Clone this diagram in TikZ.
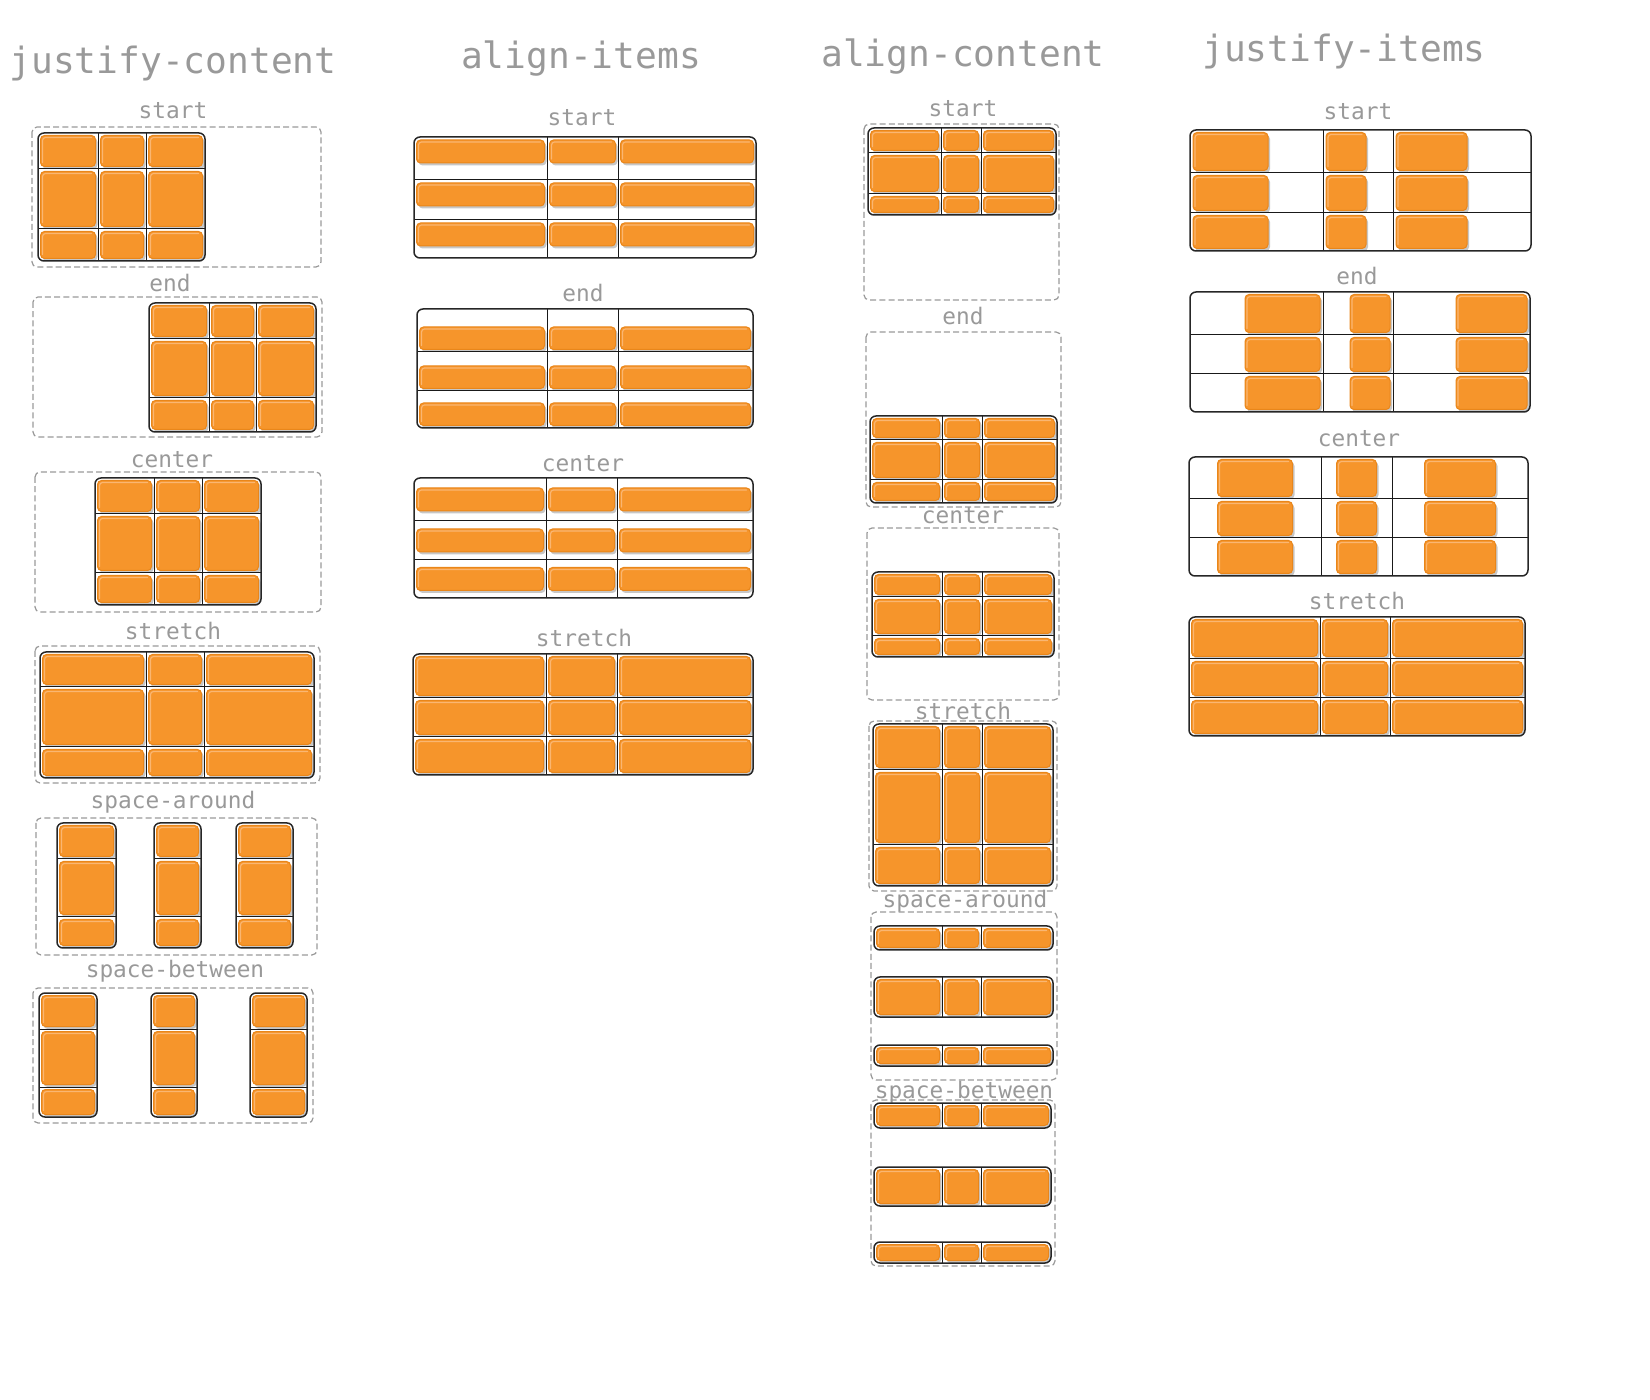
\documentclass[tikz,border=0pt]{standalone}
\usepackage{fontspec}
\newfontfamily\codefont{DejaVu Sans Mono}
\definecolor{tileorange}{HTML}{F6952B}
\definecolor{tileedge}{HTML}{E9861A}
\definecolor{tileshine}{HTML}{FAB672}
\definecolor{labelgray}{HTML}{999999}

\tikzset{
    colhead/.style={font=\codefont\fontsize{18.1}{20}\selectfont, text=labelgray, anchor=base, inner sep=0pt},
    panellabel/.style={font=\codefont\fontsize{11.4}{13}\selectfont, text=labelgray, anchor=base, inner sep=0pt},
    trackbox/.style={draw=black!40, dash pattern=on 3pt off 1.6pt, line width=0.6pt, rounded corners=2.5pt},
    gridframe/.style={draw=black!85, line width=0.75pt, rounded corners=3pt},
    gridline/.style={draw=black!90, line width=0.5pt},
    tile/.style={fill=tileorange, draw=tileedge, line width=0.5pt, rounded corners=2pt},
    tileshadow/.style={fill=black!22, rounded corners=2pt},
    shine/.style={draw=tileshine, line width=0.6pt, line cap=round, rounded corners=1.5pt},
}

% one orange item: left, top, right, bottom
\newcommand\gitem[4]{%
    \fill[tileshadow] ({#1+2},{#2+2.5}) rectangle ({#3+2},{#4+2.5});
    \draw[tile] ({#1},{#2}) rectangle ({#3},{#4});
    \draw[shine] ({#1+2},{#4-4}) -- ({#1+2},{#2+2}) -- ({#3-4},{#2+2});
}

% where the item sits in its cell
\newcommand\fillcell{\gitem{\xa+2.5}{\ya+2.5}{\xb-2.5}{\yb-2.5}}
\newcommand\topcell{\gitem{\xa+2.5}{\ya+3}{\xb-2.5}{\ya+26}}
\newcommand\bottomcell{\gitem{\xa+2.5}{\yb-25}{\xb-2.5}{\yb-2.5}}
\newcommand\middlecell{\gitem{\xa+2.5}{(\ya+\yb)/2-11.5}{\xb-2.5}{(\ya+\yb)/2+11.5}}
\newcommand\itemwidth{\pgfmathsetmacro\tilew{{75,40,71}[\col-1]}}
\newcommand\leftcell{\itemwidth\gitem{\xa+3}{\ya+2.5}{\xa+3+\tilew}{\yb-2.5}}
\newcommand\rightcell{\itemwidth\gitem{\xb-3-\tilew}{\ya+2.5}{\xb-3}{\yb-2.5}}
\newcommand\centercell{\itemwidth\gitem{(\xa+\xb-\tilew)/2}{\ya+2.5}{(\xa+\xb+\tilew)/2}{\yb-2.5}}

% grid: x start, x lines, y start, y lines, item placement
\newcommand\cellgrid[5]{%
    \foreach \xb in {#2}{\xdef\gridendx{\xb}}
    \foreach \yb in {#4}{\xdef\gridendy{\yb}}
    \begin{scope}
        \clip[rounded corners=3pt] (#1,#3) rectangle (\gridendx,\gridendy);
        \foreach \xb [count=\col, remember=\xb as \xa (initially #1)] in {#2}{
            \foreach \yb [remember=\yb as \ya (initially #3)] in {#4}{
                \draw[gridline] (\xa,\ya) rectangle (\xb,\yb);
                #5
            }
        }
    \end{scope}
    \draw[gridframe] (#1,#3) rectangle (\gridendx,\gridendy);
}

\begin{document}
\begin{tikzpicture}[x=0.5pt,y=-0.5pt]
    \useasboundingbox (0,0) rectangle (1650,1400);

    \node[colhead] (jc) at (173,74) {justify-content};
    \node[colhead] (ai) at (581,69) {align-items};
    \node[colhead] (ac) at (963,67) {align-content};
    \node[colhead] (ji) at (1344,62) {justify-items};

    % justify-content
    \node[panellabel] (jc-start) at (173,119) {start};
    \draw[trackbox] (32,127) rectangle (321,267);
    \cellgrid{38}{98,146,205}{133}{169,229,261}{\fillcell}

    \node[panellabel] (jc-end) at (170,292) {end};
    \draw[trackbox] (33,297) rectangle (322,437);
    \cellgrid{149}{209,256,316}{303}{339,398,432}{\fillcell}

    \node[panellabel] (jc-center) at (172,468) {center};
    \draw[trackbox] (35,472) rectangle (321,612);
    \cellgrid{95}{154,202,261}{478}{514,573,605}{\fillcell}

    \node[panellabel] (jc-stretch) at (173,640) {stretch};
    \draw[trackbox] (35,646) rectangle (320,783);
    \cellgrid{40}{146,204,314}{652}{687,747,778}{\fillcell}

    \node[panellabel] (jc-around) at (173,809) {space-around};
    \draw[trackbox] (36,818) rectangle (317,955);
    \cellgrid{57}{116}{823}{859,917,948}{\fillcell}
    \cellgrid{154}{201}{823}{859,917,948}{\fillcell}
    \cellgrid{236}{293}{823}{859,917,948}{\fillcell}

    \node[panellabel] (jc-between) at (175,978) {space-between};
    \draw[trackbox] (33,988) rectangle (313,1123);
    \cellgrid{39}{97}{993}{1029,1087,1117}{\fillcell}
    \cellgrid{151}{197}{993}{1029,1087,1117}{\fillcell}
    \cellgrid{250}{307}{993}{1029,1087,1117}{\fillcell}

    % align-items
    \node[panellabel] (ai-start) at (582,126) {start};
    \cellgrid{414}{547,618,756}{137}{180,220,258}{\topcell}

    \node[panellabel] (ai-end) at (583,302) {end};
    \cellgrid{417}{547,618,753}{309}{352,391,428}{\bottomcell}

    \node[panellabel] (ai-center) at (583,472) {center};
    \cellgrid{414}{546,617,753}{478}{521,560,598}{\middlecell}

    \node[panellabel] (ai-stretch) at (584,647) {stretch};
    \cellgrid{413}{546,617,753}{654}{698,737,775}{\fillcell}

    % align-content
    \node[panellabel] (ac-start) at (963,117) {start};
    \draw[trackbox] (864,124) rectangle (1059,300);
    \cellgrid{868}{941,981,1056}{128}{153,194,215}{\fillcell}

    \node[panellabel] (ac-end) at (963,325) {end};
    \draw[trackbox] (866,332) rectangle (1061,507);
    \cellgrid{870}{942,982,1057}{416}{440,480,503}{\fillcell}

    \node[panellabel] (ac-center) at (963,524) {center};
    \draw[trackbox] (867,528) rectangle (1059,700);
    \cellgrid{872}{942,982,1054}{572}{597,636,657}{\fillcell}

    \node[panellabel] (ac-stretch) at (963,720) {stretch};
    \draw[trackbox] (869,721) rectangle (1057,891);
    \cellgrid{873}{942,982,1053}{724}{770,845,886}{\fillcell}

    \node[panellabel] (ac-around) at (965,907) {space-around};
    \draw[trackbox] (871,912) rectangle (1057,1080);
    \cellgrid{874}{942,981,1053}{926}{950}{\fillcell}
    \cellgrid{874}{942,981,1053}{977}{1017}{\fillcell}
    \cellgrid{874}{942,981,1053}{1045}{1066}{\fillcell}

    \node[panellabel] (ac-between) at (964,1098) {space-between};
    \draw[trackbox] (871,1100) rectangle (1055,1266);
    \cellgrid{874}{942,981,1051}{1103}{1128}{\fillcell}
    \cellgrid{874}{942,981,1051}{1167}{1206}{\fillcell}
    \cellgrid{874}{942,981,1051}{1242}{1263}{\fillcell}

    % justify-items
    \node[panellabel] (ji-start) at (1358,120) {start};
    \cellgrid{1190}{1323,1393,1531}{130}{173,213,251}{\leftcell}

    \node[panellabel] (ji-end) at (1357,285) {end};
    \cellgrid{1190}{1323,1393,1530}{292}{335,374,412}{\rightcell}

    \node[panellabel] (ji-center) at (1359,447) {center};
    \cellgrid{1189}{1321,1392,1528}{457}{499,538,576}{\centercell}

    \node[panellabel] (ji-stretch) at (1357,610) {stretch};
    \cellgrid{1189}{1320,1390,1525}{617}{659,698,736}{\fillcell}
\end{tikzpicture}
\end{document}
